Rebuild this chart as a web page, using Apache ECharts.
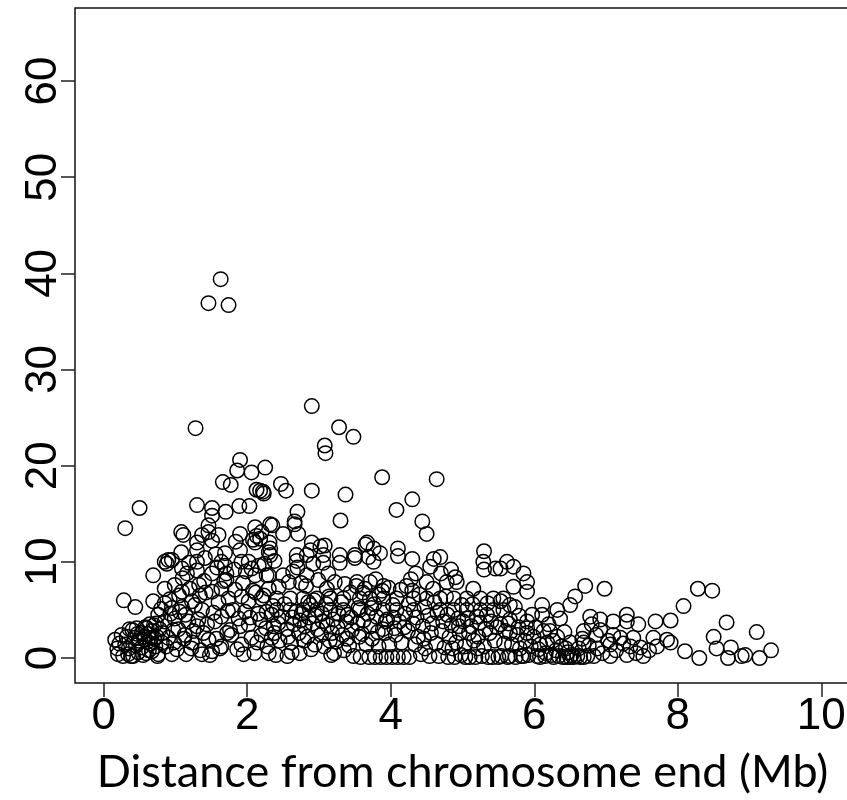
<!DOCTYPE html>
<html>
<head>
<meta charset="utf-8">
<script src="https://cdn.jsdelivr.net/npm/echarts@6/dist/echarts.min.js"></script>
<style>
html,body{margin:0;padding:0;background:#fff;overflow:hidden}
/* plot box runs a few px past the right edge of the window, like the original */
#main{width:850px;height:800px}
</style>
</head>
<body>
<div id="main"></div>
<script>
// tick labels
var xTicks = [0, 2, 4, 6, 8, 10];
var yTicks = [0, 10, 20, 30, 40, 50, 60];

// points, [distance (Mb), value], grouped by Mb band
var pts0 = [[0.16,1.9],[0.20,0.4],[0.25,2.4],[0.28,6.0],[0.30,13.5],[0.30,1.4],[0.34,0.4],[0.22,1.5],[0.27,0.2],[0.32,2.2],
  [0.35,1.0],[0.38,0.2],[0.40,2.9],[0.41,0.2],[0.43,2.1],[0.44,5.3],[0.45,1.3],[0.46,3.1],[0.48,0.6],[0.50,15.6],
  [0.47,2.5],[0.36,3.0],[0.19,1.0],[0.49,1.8],
  [0.53,2.6],[0.53,1.1],[0.55,0.3],[0.57,1.9],[0.58,3.2],[0.60,3.1],[0.62,2.5],[0.63,0.8],[0.65,1.5],[0.67,2.8],
  [0.67,0.7],[0.69,5.9],[0.69,8.6],[0.70,3.4],[0.72,1.2],[0.74,2.2],[0.75,0.2],[0.76,4.5],[0.76,0.4],[0.78,3.0],
  [0.80,5.1],[0.81,1.6],[0.82,2.6],[0.85,10.0],[0.85,7.2],[0.85,5.7],[0.85,3.8],[0.87,1.2],[0.88,9.8],[0.90,10.2],
  [0.90,2.1],[0.92,6.1],[0.93,4.6],[0.95,10.2],[0.95,5.2],[0.95,0.4],[0.97,2.9],[0.99,7.6],[0.99,4.1],[0.98,1.6],
  [0.56,2.2],[0.61,1.7],[0.64,3.5],[0.59,0.5],[0.71,2.0],[0.73,3.6],[0.66,2.1]];

var pts1 = [[1.02,0.9],[1.04,3.0],[1.05,6.5],[1.08,13.1],[1.11,12.8],[1.08,11.0],[1.09,9.3],[1.09,6.9],[1.09,5.3],[1.10,8.3],
  [1.12,2.0],[1.13,2.4],[1.14,4.5],[1.16,8.8],[1.18,3.8],[1.20,7.2],[1.22,1.0],[1.23,5.9],[1.23,1.6],[1.25,2.8],
  [1.28,23.9],[1.30,15.9],[1.30,12.0],[1.30,11.2],[1.30,10.0],[1.30,9.1],[1.30,3.3],[1.32,4.0],[1.34,6.5],[1.35,0.8],
  [1.37,12.8],[1.37,5.0],[1.37,0.4],[1.39,2.6],[1.40,8.0],[1.42,6.8],[1.44,3.5],[1.46,36.9],[1.46,13.8],[1.46,13.1],
  [1.46,1.9],[1.48,0.3],[1.15,0.4],[1.27,5.5],[1.06,4.8],[1.19,9.9],[1.41,10.4],[1.33,7.6],
  [1.51,15.6],[1.51,14.8],[1.51,12.2],[1.51,8.8],[1.51,6.9],[1.51,0.7],[1.53,4.7],[1.55,3.8],[1.57,2.0],[1.58,9.4],
  [1.60,5.8],[1.62,1.0],[1.63,39.4],[1.64,10.0],[1.64,7.2],[1.64,4.3],[1.64,1.2],[1.66,18.3],[1.68,8.0],[1.69,10.9],
  [1.69,9.6],[1.70,15.2],[1.71,8.8],[1.71,8.1],[1.72,2.6],[1.74,36.7],[1.74,6.2],[1.76,2.9],[1.77,18.0],[1.78,2.4],
  [1.80,5.0],[1.82,9.2],[1.84,12.1],[1.86,19.5],[1.88,4.1],[1.89,15.8],[1.90,20.6],[1.90,12.9],[1.90,11.2],[1.90,3.3],
  [1.92,10.0],[1.92,6.4],[1.92,1.4],[1.94,7.8],[1.95,0.4],[1.97,4.8],[1.98,9.0],[1.56,10.8],[1.60,12.8],[1.83,7.1],
  [1.86,0.9],[1.73,4.9]];

var pts2 = [[2.02,10.0],[2.02,5.9],[2.02,3.5],[2.03,15.8],[2.06,19.3],[2.06,9.3],[2.06,2.1],[2.08,12.3],[2.08,7.0],[2.10,0.5],
  [2.11,13.6],[2.11,12.0],[2.11,8.6],[2.13,17.5],[2.13,12.7],[2.15,4.6],[2.16,9.6],[2.18,12.4],[2.18,17.4],[2.18,4.0],
  [2.20,6.2],[2.20,2.4],[2.20,13.1],[2.22,17.3],[2.23,17.1],[2.23,6.5],[2.25,19.8],[2.26,3.1],[2.27,8.6],[2.28,1.2],
  [2.30,11.0],[2.30,8.6],[2.30,7.2],[2.30,0.5],[2.31,12.0],[2.32,13.9],[2.32,11.4],[2.32,10.7],[2.34,4.5],[2.35,13.8],
  [2.36,5.4],[2.38,10.1],[2.38,2.6],[2.40,0.3],[2.41,6.2],[2.41,5.0],[2.43,3.6],[2.45,1.8],[2.47,18.1],[2.48,4.3],
  [2.50,12.9],[2.50,8.6],[2.04,4.2],[2.14,1.6],[2.24,9.8],[2.37,3.3],[2.44,7.4],[2.12,6.8],[2.27,4.8],[2.34,2.1],
  [2.52,5.6],[2.54,17.4],[2.55,3.0],[2.56,0.2],[2.58,7.9],[2.60,6.2],[2.60,5.0],[2.61,1.6],[2.63,4.2],[2.65,3.5],
  [2.66,14.2],[2.66,13.9],[2.68,4.8],[2.69,10.1],[2.69,10.7],[2.70,15.2],[2.70,9.4],[2.71,12.9],[2.72,2.6],[2.73,0.5],
  [2.74,3.9],[2.76,4.6],[2.78,6.2],[2.78,5.0],[2.79,1.8],[2.80,3.3],[2.82,7.5],[2.83,10.7],[2.83,8.6],[2.84,2.2],
  [2.86,4.2],[2.88,11.2],[2.88,5.5],[2.89,0.9],[2.90,26.2],[2.90,17.4],[2.90,12.0],[2.91,3.6],[2.93,6.0],[2.94,1.4],
  [2.95,4.4],[2.97,6.2],[2.97,5.0],[2.98,3.0],[2.99,8.1],[2.57,2.2],[2.64,9.0],[2.75,7.8],[2.85,5.8],[2.92,9.8],
  [2.62,0.6]];

var pts3 = [[3.02,11.6],[3.03,2.4],[3.04,4.6],[3.06,10.7],[3.06,9.9],[3.07,1.2],[3.08,22.1],[3.08,11.7],[3.09,21.3],[3.10,5.6],
  [3.11,7.2],[3.12,3.4],[3.14,6.4],[3.16,6.2],[3.16,5.0],[3.17,0.3],[3.18,2.6],[3.20,4.0],[3.22,7.9],[3.24,1.7],
  [3.26,3.2],[3.28,24.0],[3.29,10.7],[3.29,9.9],[3.30,14.3],[3.31,5.8],[3.33,2.4],[3.34,6.2],[3.34,5.0],[3.35,0.8],
  [3.37,17.0],[3.38,3.8],[3.40,4.5],[3.42,1.3],[3.44,6.8],[3.46,2.9],[3.48,23.0],[3.48,0.2],[3.50,10.7],[3.50,10.4],
  [3.05,3.8],[3.13,8.8],[3.21,0.5],[3.27,4.6],[3.36,7.7],[3.45,4.2],[3.15,1.8],[3.39,2.0],
  [3.52,7.5],[3.53,7.9],[3.54,3.6],[3.55,5.2],[3.57,6.2],[3.57,5.0],[3.58,0.1],[3.60,2.5],[3.62,3.9],[3.64,7.2],
  [3.65,11.8],[3.66,1.4],[3.67,12.0],[3.68,4.6],[3.69,10.5],[3.70,0.1],[3.71,6.2],[3.71,7.9],[3.72,3.3],[3.74,2.0],
  [3.76,11.4],[3.76,10.0],[3.77,5.6],[3.78,0.1],[3.80,4.3],[3.82,2.7],[3.84,6.6],[3.85,10.9],[3.86,0.1],[3.88,18.8],
  [3.88,7.0],[3.89,3.0],[3.90,7.5],[3.90,6.2],[3.90,5.0],[3.92,2.6],[3.94,0.1],[3.95,4.0],[3.97,7.3],[3.98,1.4],
  [3.61,6.8],[3.73,5.2],[3.83,1.2],[3.93,3.8],[3.56,2.2],[3.79,8.2]];

var pts4 = [[4.02,0.1],[4.03,5.5],[4.05,3.1],[4.07,2.4],[4.08,15.4],[4.08,6.2],[4.08,5.0],[4.10,11.4],[4.10,10.6],[4.10,0.1],
  [4.12,3.8],[4.15,1.6],[4.18,0.1],[4.20,4.6],[4.22,7.5],[4.24,2.8],[4.26,0.1],[4.28,8.2],[4.30,16.5],[4.30,10.3],
  [4.30,7.0],[4.31,3.6],[4.32,6.2],[4.32,5.0],[4.34,1.4],[4.36,4.2],[4.38,2.2],[4.40,6.6],[4.42,0.4],[4.44,14.2],
  [4.45,3.3],[4.47,5.3],[4.48,1.0],[4.50,12.9],[4.50,7.9],[4.50,6.2],[4.04,4.2],[4.14,7.1],[4.25,5.6],[4.35,8.8],
  [4.46,2.0],[4.19,3.2],
  [4.52,4.4],[4.54,0.2],[4.55,9.5],[4.56,2.6],[4.58,3.6],[4.60,10.3],[4.61,5.8],[4.63,1.5],[4.64,18.6],[4.65,4.7],
  [4.67,0.2],[4.69,10.5],[4.69,6.2],[4.69,5.0],[4.70,8.8],[4.71,2.8],[4.73,3.8],[4.75,1.1],[4.78,7.9],[4.79,4.5],
  [4.80,0.1],[4.82,2.2],[4.84,9.2],[4.85,3.4],[4.88,6.2],[4.88,5.0],[4.89,0.1],[4.90,8.4],[4.91,1.6],[4.92,7.9],
  [4.94,4.1],[4.96,2.6],[4.98,0.3],[4.99,5.5],[4.59,7.2],[4.77,6.4],[4.86,1.0],[4.95,3.3]];

var pts5 = [[5.01,3.8],[5.03,1.2],[5.04,0.1],[5.06,6.2],[5.06,5.0],[5.07,4.1],[5.09,2.6],[5.10,0.1],[5.12,3.3],[5.14,5.6],
  [5.16,1.8],[5.18,0.1],[5.20,4.3],[5.22,2.2],[5.24,3.7],[5.25,6.2],[5.25,5.0],[5.27,0.2],[5.29,10.0],[5.30,11.1],
  [5.30,9.2],[5.30,1.2],[5.32,3.0],[5.34,4.5],[5.36,0.1],[5.38,2.6],[5.40,3.8],[5.42,0.1],[5.43,6.2],[5.43,5.0],
  [5.45,1.8],[5.46,9.3],[5.48,3.2],[5.50,0.1],[5.15,7.2],[5.35,5.7],[5.21,1.0],
  [5.53,9.3],[5.53,5.9],[5.53,3.5],[5.54,0.2],[5.57,6.2],[5.57,5.0],[5.58,1.5],[5.60,2.8],[5.62,10.0],[5.63,0.1],
  [5.66,5.5],[5.66,4.0],[5.66,2.6],[5.66,0.2],[5.69,1.4],[5.71,9.5],[5.71,7.4],[5.73,5.3],[5.74,0.1],[5.76,2.4],
  [5.78,3.2],[5.80,1.0],[5.82,0.2],[5.85,8.8],[5.85,0.2],[5.87,1.8],[5.90,7.9],[5.90,6.9],[5.90,3.8],[5.90,3.1],
  [5.90,2.6],[5.92,0.3],[5.95,1.2],[5.97,4.5],[5.99,2.2],[5.64,3.6],[5.79,4.4]];

var pts6 = [[6.02,3.2],[6.04,0.2],[6.06,0.9],[6.08,1.4],[6.08,0.1],[6.11,5.5],[6.11,4.5],[6.13,2.8],[6.15,0.2],[6.18,1.6],
  [6.20,3.5],[6.22,2.8],[6.24,0.3],[6.27,0.1],[6.30,0.8],[6.32,5.0],[6.32,2.2],[6.34,0.2],[6.36,4.1],[6.38,1.2],
  [6.40,0.1],[6.42,2.7],[6.45,0.1],[6.47,0.6],[6.50,5.5],[6.50,1.6],[6.50,0.1],[6.16,0.5],[6.26,1.8],[6.44,1.0],
  [6.52,0.3],[6.55,0.1],[6.57,6.4],[6.60,0.2],[6.62,1.0],[6.64,0.1],[6.67,2.0],[6.69,2.8],[6.69,1.6],[6.69,0.1],
  [6.71,7.5],[6.74,0.2],[6.76,1.3],[6.78,4.3],[6.80,3.5],[6.83,0.2],[6.86,2.4],[6.88,1.0],[6.92,4.0],[6.92,2.9],
  [6.95,0.5],[6.98,7.2]];

var pts7 = [[7.03,1.8],[7.06,1.4],[7.06,0.2],[7.10,3.8],[7.10,2.4],[7.14,0.8],[7.20,2.1],[7.24,1.5],[7.29,4.5],[7.29,3.8],
  [7.29,0.3],[7.34,1.2],[7.38,2.1],[7.42,0.5],[7.45,3.5],[7.48,1.1],
  [7.52,0.2],[7.60,0.8],[7.66,2.1],[7.69,3.8],[7.71,1.2],[7.85,1.9],[7.90,3.9],[7.90,1.6]];

var pts8 = [[8.08,5.4],[8.10,0.7],[8.28,7.2],[8.30,0.0],[8.48,7.0],[8.50,2.2],[8.54,1.0],[8.68,3.7],[8.70,0.0],[8.74,1.1],
  [8.89,0.2],[8.94,0.3],[9.10,2.7],[9.14,0.0],[9.30,0.8]];

var allPts = [].concat(pts0, pts1, pts2, pts3, pts4, pts5, pts6, pts7, pts8);

var chart = echarts.init(document.getElementById('main'), null, {renderer: 'canvas'});

var option = {
  animation: false,
  backgroundColor: '#fff',
  grid: {
    left: 75, top: 8, right: 0, bottom: 111,
    show: true, borderColor: '#111', borderWidth: 1.5, backgroundColor: 'transparent'
  },
  xAxis: {
    type: 'value',
    min: -0.4, max: 10.4,
    splitLine: {show: false},
    axisLine: {show: false, onZero: false},
    axisTick: {show: true, inside: false, length: 14, customValues: xTicks, lineStyle: {color: '#222', width: 1.5}},
    axisLabel: {show: true, margin: 12, customValues: xTicks, color: '#000', fontSize: 44, fontFamily: 'Liberation Sans'},
    name: 'Distance from chromosome end (Mb)',
    nameLocation: 'middle',
    nameGap: 67,
    nameTextStyle: {color: '#000', fontSize: 45, fontFamily: 'Lato'}
  },
  yAxis: {
    type: 'value',
    min: -2.6, max: 67.6,
    splitLine: {show: false},
    axisLine: {show: false, onZero: false},
    axisTick: {show: true, inside: false, length: 14, customValues: yTicks, lineStyle: {color: '#222', width: 1.5}},
    // rotated like R's default las=0
    axisLabel: {show: true, margin: 9, rotate: 90, customValues: yTicks, color: '#000', fontSize: 44, fontFamily: 'Liberation Sans'}
  },
  series: [{
    type: 'scatter',
    data: allPts,
    symbol: 'circle',
    symbolSize: 14.5,
    silent: true,
    itemStyle: {color: 'rgba(0,0,0,0)', borderColor: '#000', borderWidth: 1.5, opacity: 1},
    emphasis: {disabled: true}
  }]
};

chart.setOption(option);
</script>
</body>
</html>
